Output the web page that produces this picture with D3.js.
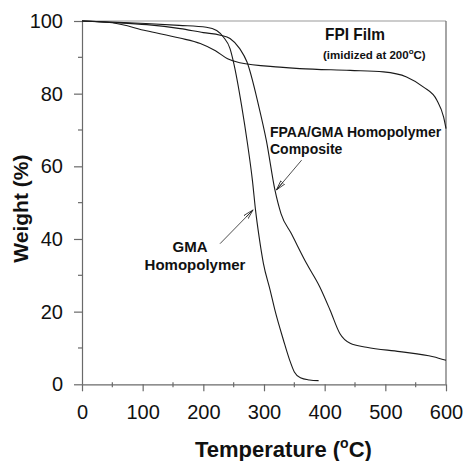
<!DOCTYPE html>
<html>
<head>
<meta charset="utf-8">
<script src="https://cdn.jsdelivr.net/npm/d3@7"></script>
<style>
  body { margin: 0; background: #fff; }
  svg { display: block; font-family: "Liberation Sans", Arial, sans-serif; }
</style>
</head>
<body>
<svg id="chart" width="465" height="461"></svg>
<script>
"use strict";

// TGA curves
const gmaTemp = [0, 50, 105, 160, 205, 222, 233, 244, 250, 263, 273, 281, 286, 292, 299, 310, 318, 332, 342, 350, 360, 375, 390];
const gmaWeight = [100, 99.7, 99.3, 98.8, 98.3, 97.4, 95.6, 92.4, 88.5, 76.8, 66, 56, 48, 40.5, 33.3, 26, 20.4, 12.2, 6.8, 3.4, 1.8, 1.2, 1.0];

const compTemp = [0, 50, 107, 162, 200, 228, 244, 260, 272, 291, 304, 318, 328, 345, 370, 392, 409, 425, 442, 469, 524, 579, 600];
const compWeight = [100, 99.6, 99.0, 97.9, 96.8, 96.1, 95.2, 92.4, 88.7, 76.8, 67, 53.5, 47, 41.5, 33.3, 26.8, 20.4, 14, 11.3, 10.2, 9.0, 7.6, 6.6];

const fpiTemp = [0, 50, 106, 161, 195, 220, 240, 260, 326, 359, 442, 497, 535, 563, 585, 596, 600];
const fpiWeight = [100, 99.5, 97.3, 95.3, 93.8, 91.8, 89.6, 88.5, 87.3, 86.9, 86.4, 86.0, 84.6, 81.8, 78.2, 73.6, 70.4];

const xTicks = [0, 100, 200, 300, 400, 500, 600];
const xMinor = [50, 150, 250, 350, 450, 550];
const yTicks = [0, 20, 40, 60, 80, 100];
const yMinor = [10, 30, 50, 70, 90];

const svg = d3.select('#chart');
const x = d3.scaleLinear().domain([0, 600]).range([82, 446]);
const y = d3.scaleLinear().domain([0, 100]).range([384.3, 21]);

const axisColor = '#6a6a6a';

// frame (top and right)
svg.append('line')
    .attr('x1', x(0)).attr('x2', x(600))
    .attr('y1', y(100)).attr('y2', y(100))
    .attr('stroke', '#9a9a9a').attr('stroke-width', 1.2);
svg.append('line')
    .attr('x1', x(600)).attr('x2', x(600))
    .attr('y1', y(100)).attr('y2', y(0))
    .attr('stroke', axisColor).attr('stroke-width', 1.2);

const xAxis = svg.append('g')
    .attr('transform', `translate(0,${y(0)})`)
    .call(d3.axisBottom(x).tickValues(xTicks).tickSizeInner(7).tickSizeOuter(0).tickPadding(14));
const yAxis = svg.append('g')
    .attr('transform', `translate(${x(0)},0)`)
    .call(d3.axisLeft(y).tickValues(yTicks).tickSizeInner(8).tickSizeOuter(0).tickPadding(11));

[xAxis, yAxis].forEach(g => {
    g.select('.domain').attr('stroke', axisColor).attr('stroke-width', 1.2);
    g.selectAll('.tick line').attr('stroke', axisColor).attr('stroke-width', 1.2);
    g.selectAll('.tick text')
        .attr('fill', '#111')
        .style('font-size', '20px')
        .style('font-family', '"Liberation Sans", Arial, sans-serif');
});

// minor ticks cross the axis lines
svg.append('g').selectAll('line')
    .data(xMinor).enter().append('line')
    .attr('x1', d => x(d)).attr('x2', d => x(d))
    .attr('y1', y(0) - 2).attr('y2', y(0) + 3)
    .attr('stroke', axisColor).attr('stroke-width', 1.2);
svg.append('g').selectAll('line')
    .data(yMinor).enter().append('line')
    .attr('x1', x(0) - 4).attr('x2', x(0) + 1)
    .attr('y1', d => y(d)).attr('y2', d => y(d))
    .attr('stroke', axisColor).attr('stroke-width', 1.2);

// curves
const line = d3.line()
    .x(d => x(d[0]))
    .y(d => y(d[1]))
    .curve(d3.curveMonotoneX);

const series = [
    d3.zip(fpiTemp, fpiWeight),
    d3.zip(compTemp, compWeight),
    d3.zip(gmaTemp, gmaWeight)
];
svg.append('g').selectAll('path')
    .data(series).enter().append('path')
    .attr('d', line)
    .attr('fill', 'none')
    .attr('stroke', '#1a1a1a')
    .attr('stroke-width', 1.1);

// axis titles
svg.append('text')
    .attr('transform', `translate(28,${(y(0) + y(100)) / 2 + 6}) rotate(-90)`)
    .attr('text-anchor', 'middle')
    .attr('font-weight', 'bold')
    .attr('font-size', 21)
    .attr('fill', '#111')
    .text('Weight (%)');

const xTitle = svg.append('text')
    .attr('x', 195).attr('y', 457)
    .attr('font-weight', 'bold')
    .attr('font-size', 22)
    .attr('fill', '#111');
xTitle.append('tspan').text('Temperature (');
xTitle.append('tspan').attr('font-size', 14).attr('dy', -9).text('o');
xTitle.append('tspan').attr('dy', 9).text('C)');

// annotations
svg.append('text')
    .attr('x', 325).attr('y', 40)
    .attr('font-weight', 'bold').attr('font-size', 17)
    .attr('textLength', 60).attr('lengthAdjust', 'spacingAndGlyphs')
    .attr('fill', '#111')
    .text('FPI Film');

const imid = svg.append('text')
    .attr('x', 323).attr('y', 59)
    .attr('font-weight', 'bold').attr('font-size', 11.5)
    .attr('fill', '#111');
imid.append('tspan').text('(imidized at 200');
imid.append('tspan').attr('font-size', 8).attr('dy', -5).text('o');
imid.append('tspan').attr('dy', 5).text('C)');

svg.append('text')
    .attr('x', 270).attr('y', 137)
    .attr('font-weight', 'bold').attr('font-size', 14)
    .attr('fill', '#111')
    .text('FPAA/GMA Homopolymer');
svg.append('text')
    .attr('x', 270).attr('y', 154)
    .attr('font-weight', 'bold').attr('font-size', 14)
    .attr('fill', '#111')
    .text('Composite');

svg.append('text')
    .attr('x', 190).attr('y', 252)
    .attr('text-anchor', 'middle')
    .attr('font-weight', 'bold').attr('font-size', 15)
    .attr('fill', '#111')
    .text('GMA');
svg.append('text')
    .attr('x', 195).attr('y', 269.5)
    .attr('text-anchor', 'middle')
    .attr('font-weight', 'bold').attr('font-size', 15)
    .attr('fill', '#111')
    .text('Homopolymer');

// arrows, in data units: [tailT, tailW, tipT, tipW]
const arrows = [
    [227.5, 38.7, 282, 48],
    [362, 61.7, 320.5, 53.5]
];
svg.append('defs').append('marker')
    .attr('id', 'head')
    .attr('viewBox', '-10 -4 12 8')
    .attr('refX', 0).attr('refY', 0)
    .attr('markerWidth', 12).attr('markerHeight', 8)
    .attr('markerUnits', 'userSpaceOnUse')
    .attr('orient', 'auto')
    .append('path')
    .attr('d', 'M0,0 L-10,-2.6 L-10,2.6 Z M0,0 L-10,0')
    .attr('fill', 'none')
    .attr('stroke', '#222')
    .attr('stroke-width', 0.8);

svg.append('g').selectAll('line')
    .data(arrows).enter().append('line')
    .attr('x1', d => x(d[0])).attr('y1', d => y(d[1]))
    .attr('x2', d => x(d[2])).attr('y2', d => y(d[3]))
    .attr('stroke', '#222')
    .attr('stroke-width', 0.8)
    .attr('marker-end', 'url(#head)');
</script>
</body>
</html>
